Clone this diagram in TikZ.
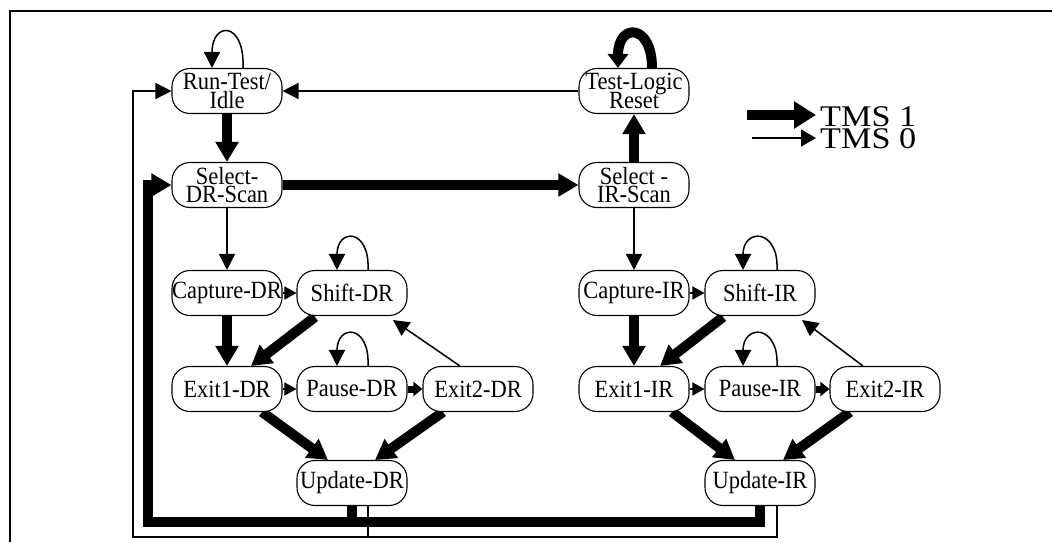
\documentclass[tikz,border=0pt]{standalone}
\usepackage{fontspec}
\setmainfont{Liberation Serif}
\usetikzlibrary{arrows.meta,calc}
\pgfdeclarelayer{bg}
\pgfsetlayers{bg,main}
\newcommand\talltxt[1]{\scalebox{1}[1.1]{#1}}
\begin{document}
\lineskiplimit=-50pt
\begin{tikzpicture}[x=1pt,y=-1pt,
  st/.style={draw,line width=1.1pt,fill=white,rounded corners=18pt,minimum width=110pt,
    minimum height=45pt,inner sep=0pt,align=center,
    font=\fontsize{22.5}{18.5}\selectfont},
  zarrow/.style={line width=1.5pt,-{Triangle[length=16pt,width=16pt]}},
  oarrow/.style={line width=10pt,line join=miter,-{Triangle[length=20pt,width=22pt]}},
  zshort/.style={line width=1.5pt,-{Triangle[length=12pt,width=13pt]}},
  oshort/.style={line width=7pt,-{Triangle[length=9pt,width=14pt]}},
  oloop/.style={line width=10pt,-{Triangle[length=14pt,width=20pt]}},
  zline/.style={line width=1.5pt},
  oline/.style={line width=10pt,line join=miter},
  legendtext/.style={anchor=base west,inner sep=0pt,font=\fontsize{30}{30}\selectfont}
]
\useasboundingbox (0,0) rectangle (1052,542);

% frame
\coordinate (fa) at (1052,11);
\coordinate (fb) at (10,11);
\coordinate (fc) at (10,542);
\draw[line width=2pt] (fa) -- (fb) -- (fc);

% states
\node[st] (rti)  at (227,91)  {\talltxt{Run-Test/}\\\talltxt{Idle}};
\node[st] (tlr)  at (634,91)  {\talltxt{Test-Logic}\\\talltxt{Reset}};
\node[st] (sdr)  at (227,185) {\talltxt{Select-}\\\talltxt{DR-Scan}};
\node[st] (sir)  at (634,185) {\talltxt{Select -}\\\talltxt{IR-Scan}};
\node[st] (cdr)  at (227,293) {\talltxt{Capture-DR}};
\node[st] (shdr) at (352,293) {\talltxt{Shift-DR}};
\node[st] (e1dr) at (227,389) {\talltxt{Exit1-DR}};
\node[st] (pdr)  at (352,389) {\talltxt{Pause-DR}};
\node[st] (e2dr) at (478,389) {\talltxt{Exit2-DR}};
\node[st] (udr)  at (352,483) {\talltxt{Update-DR}};
\node[st] (cir)  at (634,293) {\talltxt{Capture-IR}};
\node[st] (shir) at (760,293) {\talltxt{Shift-IR}};
\node[st] (e1ir) at (634,389) {\talltxt{Exit1-IR}};
\node[st] (pir)  at (760,389) {\talltxt{Pause-IR}};
\node[st] (e2ir) at (885,389) {\talltxt{Exit2-IR}};
\node[st] (uir)  at (760,483) {\talltxt{Update-IR}};

\coordinate (lb) at (133,537);
\coordinate (tb) at (148,522);

\begin{pgfonlayer}{bg}
% TMS 0 (thin)
\draw[zarrow] (tlr) -- (rti);
\draw[zarrow] ($(rti.north)+(16,0)$) .. controls +(2,-47) and +(0,-47) .. ($(rti.north)+(-15,0)$);
\draw[zarrow] (sdr) -- (cdr);
\draw[zarrow] (sir) -- (cir);
\draw[zshort] (cdr) -- (shdr);
\draw[zshort] (e1dr) -- (pdr);
\draw[zshort] (cir) -- (shir);
\draw[zshort] (e1ir) -- (pir);
\draw[zarrow] ($(shdr.north)+(16,0)$) .. controls +(2,-42) and +(0,-42) .. ($(shdr.north)+(-15,0)$);
\draw[zarrow] ($(pdr.north)+(16,0)$) .. controls +(2,-42) and +(0,-42) .. ($(pdr.north)+(-15,0)$);
\draw[zarrow] ($(shir.north)+(17,0)$) .. controls +(2,-42) and +(0,-42) .. ($(shir.north)+(-17,0)$);
\draw[zarrow] ($(pir.north)+(17,0)$) .. controls +(2,-42) and +(0,-42) .. ($(pir.north)+(-17,0)$);
\draw[zarrow] ($(e2dr.center)+(-18,-23)$) -- ($(shdr.center)+(41,27)$);
\draw[zarrow] ($(e2ir.center)+(-22,-23)$) -- ($(shir.center)+(42,27)$);
\draw[zline] ($(udr.south)+(16,0)$) |- (lb);
\draw[zarrow] ($(uir.south)+(17,0)$) |- (lb) |- (rti.west);

% TMS 1 (thick)
\draw[oloop] ($(tlr.north)+(18,0)$) .. controls +(0,-45) and +(0,-45) .. ($(tlr.north)+(-16,0)$);
\draw[oarrow] (rti) -- (sdr);
\draw[oarrow] (sdr) -- (sir);
\draw[oarrow] (sir) -- (tlr);
\draw[oarrow] (cdr) -- (e1dr);
\draw[oarrow] (cir) -- (e1ir);
\draw[oarrow] ($(shdr.center)+(-37,24)$) -- ($(e1dr.center)+(24,-23)$);
\draw[oarrow] ($(shir.center)+(-37,24)$) -- ($(e1ir.center)+(26,-23)$);
\draw[oshort] (pdr) -- (e2dr);
\draw[oshort] (pir) -- (e2ir);
\draw[oarrow] ($(e1dr.center)+(35,23)$) -- ($(udr.center)+(-24,-23)$);
\draw[oarrow] ($(e2dr.center)+(-35,23)$) -- ($(udr.center)+(23,-23)$);
\draw[oarrow] ($(e1ir.center)+(38,23)$) -- ($(uir.center)+(-25,-23)$);
\draw[oarrow] ($(e2ir.center)+(-35,23)$) -- ($(uir.center)+(23,-23)$);
\draw[oline] (udr.south) -- (udr.south |- tb);
\draw[oarrow] (uir.south) |- (tb) |- (sdr.west);
\end{pgfonlayer}

% legend
\coordinate (l1a) at (747,115);
\coordinate (l1b) at (816,115);
\coordinate (l2a) at (752,138);
\coordinate (l2b) at (816,138);
\draw[line width=10pt,-{Triangle[length=22pt,width=26pt]}] (l1a) -- (l1b);
\draw[line width=1.5pt,-{Triangle[length=15pt,width=17pt]}] (l2a) -- (l2b);
\node[legendtext] (tms1) at (820,126) {\scalebox{1.14}[1]{TMS 1}};
\node[legendtext] (tms0) at (820,148) {\scalebox{1.14}[1]{TMS 0}};
\end{tikzpicture}
\end{document}
